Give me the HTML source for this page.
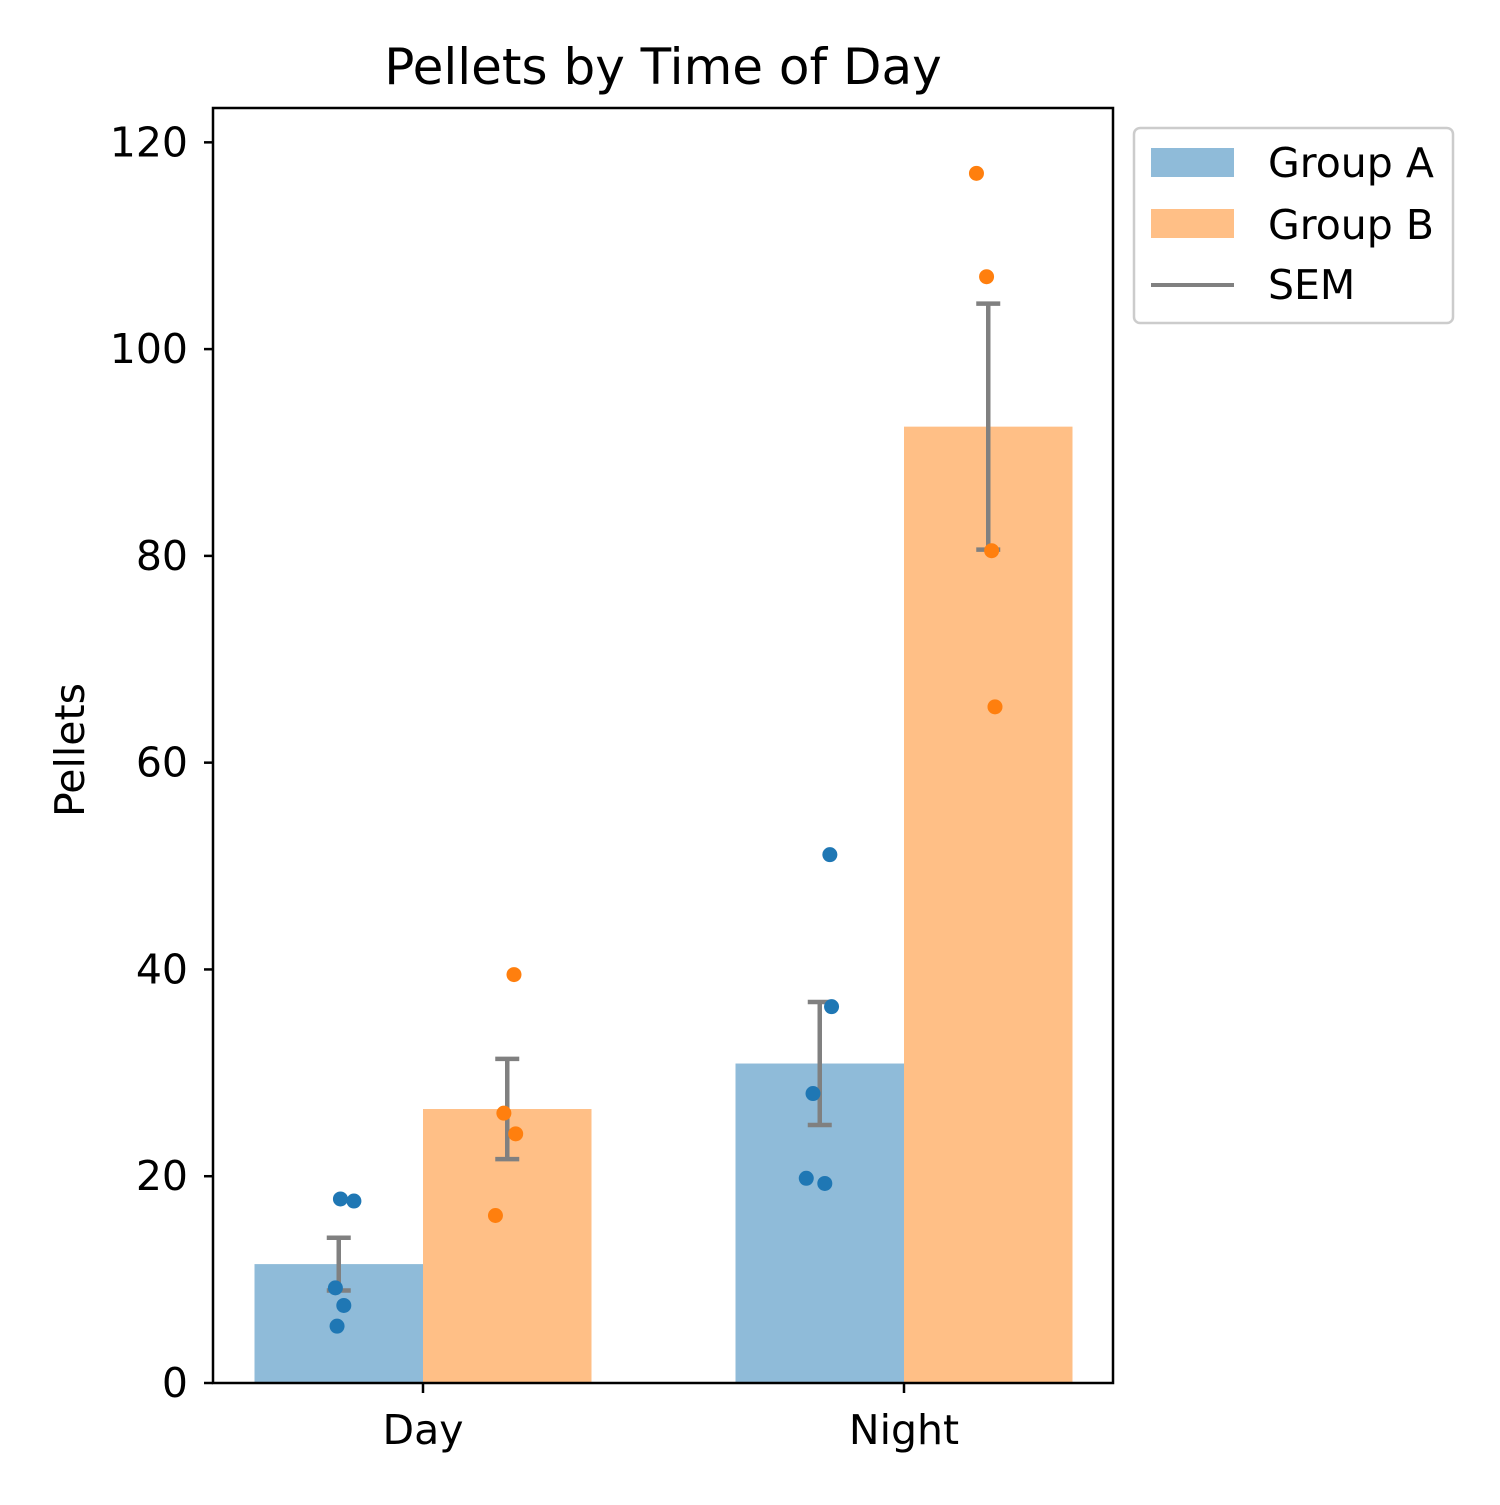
<!DOCTYPE html>
<html><head><meta charset="utf-8"><style>
html,body{margin:0;padding:0;background:#fff;}
svg text{font-family:"DejaVu Sans","Liberation Sans",sans-serif;fill:#000;}
</style></head><body>
<svg id="chart" width="1500" height="1500" viewBox="0 0 1500 1500" xmlns="http://www.w3.org/2000/svg">
<rect width="1500" height="1500" fill="#fff"/>
<text x="663" y="84" font-size="50" text-anchor="middle">Pellets by Time of Day</text>
<text x="0" y="0" font-size="41" text-anchor="middle" transform="translate(84,750) rotate(-90)">Pellets</text>
<g id="plot"></g>
<rect x="213" y="108" width="900" height="1275" fill="none" stroke="#000" stroke-width="2.5"/>
<g>
<rect x="1134" y="128" width="319" height="195" rx="6" fill="#fff" stroke="#ccc" stroke-width="2.5"/>
<rect x="1151" y="148" width="83" height="29" fill="#8fbbd9"/>
<text x="1268" y="177" font-size="41">Group A</text>
<rect x="1151" y="209" width="83" height="29" fill="#ffbf86"/>
<text x="1268" y="239" font-size="41">Group B</text>
<line x1="1151" y1="285" x2="1234" y2="285" stroke="#808080" stroke-width="4"/>
<text x="1268" y="299" font-size="41">SEM</text>
</g>
</svg>
<script>
const categories = ["Day", "Night"];
const groupAMeans = [11.5, 30.9];
const groupBMeans = [26.5, 92.5];
const groupASem = [2.55, 5.95];
const groupBSem = [4.85, 11.9];
const groupAPoints = [[17.8, 17.6, 9.2, 7.5, 5.5], [51.1, 36.4, 28.0, 19.8, 19.3]];
const groupAJitter = [[0.01, 0.09, -0.02, 0.03, -0.01], [0.06, 0.07, -0.04, -0.08, 0.03]];
const groupBPoints = [[39.5, 26.1, 24.1, 16.2], [117.0, 107.0, 80.5, 65.4]];
const groupBJitter = [[0.04, -0.02, 0.05, -0.07], [-0.07, -0.01, 0.02, 0.04]];
const yTicks = [0, 20, 40, 60, 80, 100, 120];

const NS = "http://www.w3.org/2000/svg";
const plot = document.getElementById("plot");
const yMin = 0, yMax = 123.32;
function y(v){ return 1383 - (v - yMin) / (yMax - yMin) * 1275; }
function xc(i){ return 423 + i * 481; }
const barW = 168.5;
function mk(tag, attrs){ const e = document.createElementNS(NS, tag); for (const k in attrs) e.setAttribute(k, attrs[k]); plot.appendChild(e); return e; }

yTicks.forEach(t => {
  const l = mk("line", {x1: 204, x2: 213, y1: y(t), y2: y(t), stroke: "#000", "stroke-width": 2.5});
  
  
  const tx = mk("text", {x: 188, y: y(t) + 14, "font-size": 41, "text-anchor": "end"});
  tx.textContent = t;
  
  
});
categories.forEach((c, i) => {
  const l = mk("line", {x1: xc(i), x2: xc(i), y1: 1383, y2: 1393, stroke: "#000", "stroke-width": 2.5});
  
  
  const tx = mk("text", {x: xc(i), y: 1444, "font-size": 41, "text-anchor": "middle"});
  tx.textContent = c;
  
  
});

function drawGroup(means, sems, pts, jit, side, fill, dot, nm){
  means.forEach((m, i) => {
    const left = side < 0 ? xc(i) - barW : xc(i);
    const b = mk("rect", {x: left, y: y(m), width: barW, height: y(0) - y(m), fill: fill});
    
    
  });
  means.forEach((m, i) => {
    const cx = xc(i) + side * barW / 2;
    const g = mk("g", {stroke: "#808080", "stroke-width": 4.5, fill: "none"});
    
    
    const hi = y(m + sems[i]), lo = y(m - sems[i]);
    [[cx, hi, cx, lo], [cx - 12, hi, cx + 12, hi], [cx - 12, lo, cx + 12, lo]].forEach(a => {
      const l = document.createElementNS(NS, "line");
      l.setAttribute("x1", a[0]); l.setAttribute("y1", a[1]); l.setAttribute("x2", a[2]); l.setAttribute("y2", a[3]);
      g.appendChild(l);
    });
  });
  pts.forEach((arr, i) => {
    const cx = xc(i) + side * barW / 2;
    arr.forEach((v, j) => {
      const c = mk("circle", {cx: cx + jit[i][j] * barW, cy: y(v), r: 7.5, fill: dot});
      
      
    });
  });
}
drawGroup(groupAMeans, groupASem, groupAPoints, groupAJitter, -1, "#8fbbd9", "#1f77b4", "group-a");
drawGroup(groupBMeans, groupBSem, groupBPoints, groupBJitter, 1, "#ffbf86", "#ff7f0e", "group-b");
</script>
</body></html>
